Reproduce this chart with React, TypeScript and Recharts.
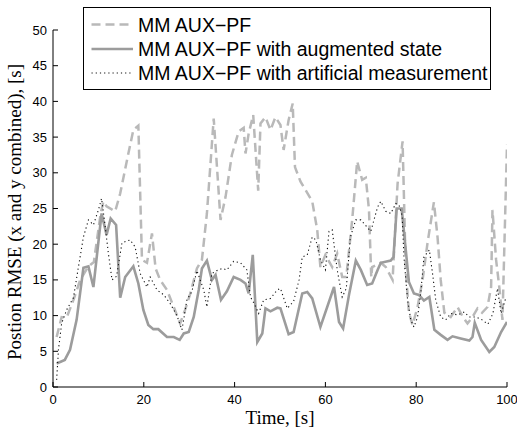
import React from "react";
import { LineChart, Line, XAxis, YAxis, Legend } from "recharts";

// ---- Data ----
const xTicks = [0, 20, 40, 60, 80, 100];
const yTicks = [0, 5, 10, 15, 20, 25, 30, 35, 40, 45, 50];

const seriesNames = [
  "MM AUX\u2212PF",
  "MM AUX\u2212PF with augmented state",
  "MM AUX\u2212PF with artificial measurement",
];

const auxTime = [
  0.8, 1.9, 3.0, 4.5, 6, 7.8, 9, 10.5, 11.1, 11.8, 13.7, 14.8, 16.6, 17.7, 18.8, 19.6, 20.7,
  21.8, 22.6, 23.6, 25.1, 26.6, 28.0, 29.1, 30.2, 31.7, 32.8, 33.9, 35.4, 36.9, 38, 39.4, 40.9,
  42.0, 42.4, 43.1, 44.1, 45.2, 45.7, 46.8, 47.9, 49, 50.1, 50.8, 51.9, 52.8, 53.3, 54.5, 57.1,
  58.2, 58.9, 60, 61.5, 62.6, 63.7, 64.6, 65.9, 67, 68.1, 68.9, 69.6, 70.1, 70.3, 72.2, 73.3,
  74.8, 75.9, 77, 77.7, 78.4, 79.2, 80.3, 81.4, 82.5, 83.9, 84.7, 85.4, 86.2, 87.6, 89.1, 90.3,
  91.3, 92.4, 93.5, 94.5, 95.7, 96.5, 96.8, 97.6, 98.3, 99, 100,
];
const auxValue = [
  7.0, 9.8, 9.7, 12.2, 15.0, 16.9, 17.5, 24.3, 26.0, 25.3, 24.6, 27.1, 32.7, 36.0, 36.6, 17.8, 17.4,
  21.5, 16.6, 15.0, 13.6, 11.2, 8.9, 10.8, 13.0, 16.6, 17.8, 24.3, 37.6, 23.4, 26.6, 32.5, 35.8,
  36.3, 32.7, 35.5, 38.1, 27.5, 36.9, 37.8, 36.0, 37.8, 36.7, 33.2, 37.4, 39.7, 30.8, 28.8, 26.0,
  22.0, 16.8, 18.5, 16.8, 18.7, 15.4, 15.4, 23.4, 31.6, 29.0, 29.3, 24.8, 15.4, 16.8, 17.4, 16.8,
  15.0, 28.5, 34.4, 16.4, 10.4, 8.7, 11.2, 15.0, 20.2, 25.9, 21.0, 15.0, 10.4, 9.8, 11.2, 9.8,
  8.9, 9.8, 11.0, 10.4, 11.2, 14.0, 24.8, 17.8, 14.0, 9.4, 34.0,
];

const augTime = [
  0.8, 2.6, 3.75, 5.2, 6.7, 7.8, 8.9, 10.7, 11.8, 12.7, 13.9, 14.8, 15.9, 17.7, 18.8, 19.9, 21,
  22.1, 23.2, 25.1, 26.6, 27.9, 28.8, 29.9, 31, 32.1, 32.8, 33.9, 35, 35.8, 37, 38.3, 39.8, 41.3,
  42.4, 43.1, 44, 45, 46.1, 46.8, 47.9, 49.4, 50.1, 51.9, 53, 54.9, 56, 57.1, 58.9, 61.9, 63,
  63.9, 65.2, 66.7, 67.8, 69.2, 70.3, 71.5, 72.2, 74.4, 75, 75.7, 76.8, 77.7, 78.4, 79.5, 80.6,
  81.7, 82.9, 84, 85.4, 86.9, 88, 89.8, 91.7, 92.4, 92.9, 94.3, 96.1, 97.2, 98.7, 100,
];
const augValue = [
  3.3, 3.8, 5.2, 9.4, 16.7, 16.9, 14.0, 24.3, 21.3, 23.6, 22.7, 12.5, 15.4, 16.9, 14.5, 10.8, 8.7,
  8.1, 8.1, 7.0, 7.0, 6.6, 7.5, 7.7, 9.8, 13.6, 16.6, 17.7, 15.0, 15.7, 12.2, 13.4, 15.4, 15.0,
  14.5, 13.1, 18.5, 6.3, 7.5, 11.0, 10.6, 11.1, 11.0, 7.4, 7.7, 13.1, 13.3, 12.4, 8.4, 14.0, 9.1,
  8.2, 12.9, 17.7, 16.4, 14.3, 14.5, 16.4, 17.4, 17.7, 18.2, 25.0, 25.0, 19.2, 14.7, 13.1, 12.9,
  12.1, 12.6, 8.0, 7.3, 6.6, 7.1, 6.8, 6.5, 7.0, 9.0, 6.6, 4.9, 5.6, 7.7, 9.1,
];

const artTime = [
  0.8, 1.2, 1.9, 3, 4.5, 5.6, 6.7, 7.8, 8.9, 10, 10.7, 11.4, 12.2, 13, 14, 15.2, 17, 18.1, 19.2,
  20.7, 21.4, 22.9, 24.4, 25.8, 27.3, 28.4, 29.5, 30.6, 31.7, 33.2, 33.9, 35, 36.1, 37.3, 38.3,
  39.8, 41.3, 42.7, 43.5, 44.3, 45.3, 46.4, 47.9, 49.4, 50.1, 51.6, 53, 54.2, 54.9, 56, 57.1,
  57.9, 58.9, 60, 60.8, 61.5, 62.6, 63.7, 64.6, 65.5, 66.7, 67.8, 68.9, 70, 70.7, 71.5, 72.2,
  73.3, 74.4, 75.5, 76.2, 76.9, 77.3, 78.1, 78.8, 79.5, 80.3, 81, 81.7, 82.9, 83.6, 84.3, 85.4,
  86.5, 87.6, 89.1, 90.6, 91.7, 93.2, 94.3, 95.8, 96.9, 97.9, 98.7, 99.8,
];
const artValue = [
  1.0, 5.2, 8.9, 10.8, 12.5, 16.8, 21.0, 23.4, 22.7, 24.8, 26.4, 23.0, 18.7, 15.0, 15.5, 20.2, 20.6,
  19.6, 15.9, 14.0, 15.4, 13.6, 12.9, 11.7, 10.0, 8.0, 12.2, 13.4, 16.3, 13.6, 11.2, 15.9, 16.3,
  16.6, 16.4, 17.6, 17.4, 16.4, 12.6, 11.7, 10.3, 12.2, 12.4, 13.6, 13.8, 11.0, 12.0, 15.0, 18.2,
  18.5, 21.0, 20.6, 17.8, 16.4, 21.8, 22.0, 16.4, 12.6, 13.8, 21.0, 23.4, 23.4, 22.6, 21.8, 23.4,
  25.2, 26.0, 24.6, 24.3, 25.7, 25.5, 24.0, 18.2, 12.2, 9.4, 8.4, 9.8, 13.1, 18.2, 19.2, 15.9,
  12.2, 9.8, 9.4, 10.3, 10.1, 10.5, 9.8, 9.8, 9.5, 8.8, 10.3, 13.8, 10.3, 12.6,
];

const zip = (t: number[], v: number[]) => t.map((tt, i) => ({ t: tt, v: v[i] }));
const auxData = zip(auxTime, auxValue);
const augData = zip(augTime, augValue);
const artData = zip(artTime, artValue);

// ---- Styles ----
const SANS = "'Liberation Sans', Arial, Helvetica, sans-serif";
const SERIF = "'Liberation Serif', 'Times New Roman', Times, serif";
const C_DASH = "#b9b9b9";
const C_SOLID = "#9c9c9c";
const C_DOT = "#111111";
const TICK = 5;

const BottomTick = (p: any) => (
  <g>
    <line x1={p.x} y1={p.y} x2={p.x} y2={p.y - TICK} stroke="#000" strokeWidth={1} />
    <text x={p.x} y={p.y + 17} textAnchor="middle" fontFamily={SANS} fontSize={13} fill="#000">
      {p.payload.value}
    </text>
  </g>
);
const TopTick = (p: any) => (
  <line x1={p.x} y1={p.y} x2={p.x} y2={p.y + TICK} stroke="#000" strokeWidth={1} />
);
const LeftTick = (p: any) => (
  <g>
    <line x1={p.x} y1={p.y} x2={p.x + TICK} y2={p.y} stroke="#000" strokeWidth={1} />
    <text x={p.x - 6} y={p.y + 4.5} textAnchor="end" fontFamily={SANS} fontSize={13} fill="#000">
      {p.payload.value}
    </text>
  </g>
);
const RightTick = (p: any) => (
  <line x1={p.x} y1={p.y} x2={p.x - TICK} y2={p.y} stroke="#000" strokeWidth={1} />
);

const LegendBox = () => {
  const rows = [
    { y: 16.5, stroke: C_DASH, w: 2.5, dash: "9 5" },
    { y: 41, stroke: C_SOLID, w: 2.6, dash: undefined },
    { y: 65, stroke: C_DOT, w: 1.1, dash: "1.2 3" },
  ];
  return (
    <div
      style={{
        width: 408,
        height: 83,
        boxSizing: "border-box",
        border: "1.5px solid #000",
        background: "#fff",
      }}
    >
      <svg width={405} height={80} style={{ display: "block" }}>
        {rows.map((r, i) => (
          <g key={i}>
            <line
              x1={7.5}
              x2={49}
              y1={r.y}
              y2={r.y}
              stroke={r.stroke}
              strokeWidth={r.w}
              strokeDasharray={r.dash}
            />
            <text x={54} y={r.y + 7} fontFamily={SANS} fontSize={19.5} fill="#000">
              {seriesNames[i]}
            </text>
          </g>
        ))}
      </svg>
    </div>
  );
};

export default function App() {
  return (
    <div style={{ position: "absolute", left: 0, top: 0, background: "#fff" }}>
      <LineChart width={517} height={432} margin={{ top: 30, right: 10, left: 0, bottom: 0 }}>
        <XAxis
          xAxisId="b"
          dataKey="t"
          type="number"
          domain={[0, 100]}
          ticks={xTicks}
          allowDataOverflow
          height={45}
          tickSize={0}
          tickMargin={0}
          tickLine={false}
          axisLine={{ stroke: "#000", strokeWidth: 1 }}
          tick={BottomTick}
          interval={0}
          label={{
            content: () => (
              <text x={280} y={424} textAnchor="middle" fontFamily={SERIF} fontSize={19} fill="#000">
                Time, [s]
              </text>
            ),
          }}
        />
        <XAxis
          xAxisId="top"
          orientation="top"
          dataKey="t"
          type="number"
          domain={[0, 100]}
          ticks={xTicks}
          height={0}
          tickSize={0}
          tickMargin={0}
          tickLine={false}
          axisLine={{ stroke: "#000", strokeWidth: 1 }}
          tick={TopTick}
          interval={0}
        />
        <YAxis
          yAxisId="l"
          type="number"
          domain={[0, 50]}
          ticks={yTicks}
          allowDataOverflow
          width={53}
          tickSize={0}
          tickMargin={0}
          tickLine={false}
          axisLine={{ stroke: "#000", strokeWidth: 1 }}
          tick={LeftTick}
          interval={0}
          label={{
            content: () => (
              <text
                x={21}
                y={212}
                transform="rotate(-90 21 212)"
                textAnchor="middle"
                fontFamily={SERIF}
                fontSize={19}
                fill="#000"
              >
                Postion RMSE (x and y combined), [s]
              </text>
            ),
          }}
        />
        <YAxis
          yAxisId="r"
          orientation="right"
          type="number"
          domain={[0, 50]}
          ticks={yTicks}
          width={0}
          tickSize={0}
          tickMargin={0}
          tickLine={false}
          axisLine={{ stroke: "#000", strokeWidth: 1 }}
          tick={RightTick}
          interval={0}
        />
        <Line
          xAxisId="b"
          yAxisId="l"
          data={auxData}
          dataKey="v"
          name={seriesNames[0]}
          type="linear"
          stroke={C_DASH}
          strokeWidth={2.5}
          strokeDasharray="9 5"
          dot={false}
          isAnimationActive={false}
        />
        <Line
          xAxisId="b"
          yAxisId="l"
          data={augData}
          dataKey="v"
          name={seriesNames[1]}
          type="linear"
          stroke={C_SOLID}
          strokeWidth={2.6}
          dot={false}
          isAnimationActive={false}
        />
        <Line
          xAxisId="b"
          yAxisId="l"
          data={artData}
          dataKey="v"
          name={seriesNames[2]}
          type="linear"
          stroke={C_DOT}
          strokeWidth={1.1}
          strokeDasharray="1.2 3"
          dot={false}
          isAnimationActive={false}
        />
        <Legend
          layout="horizontal"
          verticalAlign="middle"
          align="center"
          content={() => <LegendBox />}
          wrapperStyle={{ position: "absolute", left: 83, top: 7, width: 408, height: 83 }}
        />
      </LineChart>
    </div>
  );
}
